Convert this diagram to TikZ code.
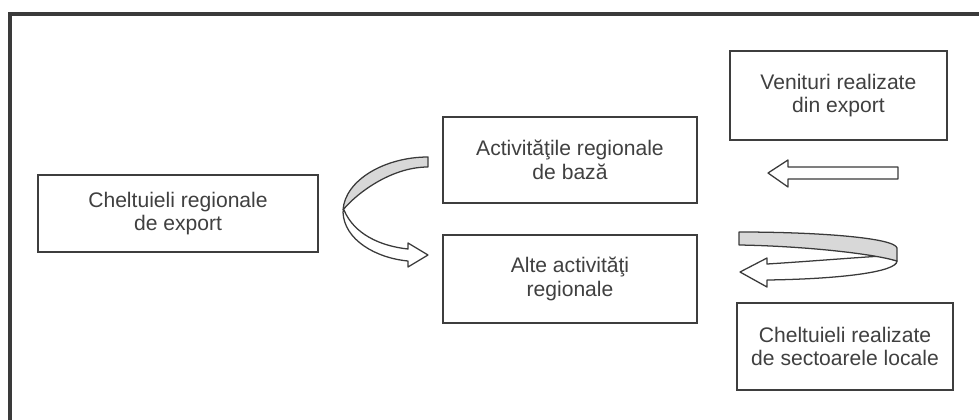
\documentclass[tikz,border=0pt]{standalone}
\usepackage{fontspec}
\setmainfont{Liberation Sans}
\usepackage{tikz}
\definecolor{FrameGray}{RGB}{58,58,58}
\definecolor{BoxLine}{RGB}{62,62,62}
\definecolor{TextGray}{RGB}{64,64,64}
\definecolor{RibbonGray}{RGB}{216,216,216}
\tikzset{
  flowbox/.style={draw=BoxLine, line width=1.3pt, fill=white, text=TextGray, align=center,
    font=\fontsize{15}{16.8}\selectfont},
  blockarrow/.style={draw=FrameGray, line width=0.9pt, fill=white, line join=round},
  ribbon/.style={draw=FrameGray, line width=0.9pt, fill=RibbonGray, line join=round}
}

\begin{document}
\begin{tikzpicture}[x=1cm,y=1cm]
  \useasboundingbox (0,0) rectangle (24.475,-10.475);
  \draw[FrameGray, line width=2.2pt] (24.6,-0.35) -- (0.25,-0.35) -- (0.25,-10.6);

  \node[flowbox, minimum width=7.0cm, minimum height=1.925cm] (export) at (4.45,-5.34) {Cheltuieli regionale\\de export};
  \node[flowbox, minimum width=6.35cm, minimum height=2.15cm] (baza) at (14.25,-4.0) {Activităţile regionale\\de bază};
  \node[flowbox, minimum width=6.35cm, minimum height=2.2cm] (alte) at (14.25,-6.975) {Alte activităţi\\regionale};
  \node[flowbox, minimum width=5.425cm, minimum height=2.225cm] (venit) at (20.96,-2.39) {Venituri realizate\\din export};
  \node[flowbox, minimum width=5.4cm, minimum height=2.175cm] (locale) at (21.125,-8.66) {Cheltuieli realizate\\de sectoarele locale};

  % straight block arrow under the export revenue box
  \draw[blockarrow] (19.2,-4.325) -- (19.7,-4.0) -- (19.7,-4.175) -- (22.45,-4.175)
    -- (22.45,-4.475) -- (19.7,-4.475) -- (19.7,-4.675) -- cycle;

  % curved arrow between export spending and the regional activities
  \draw[ribbon] (10.7,-3.925) .. controls (9.625,-3.925) and (8.625,-4.5) .. (8.575,-5.25)
    .. controls (8.875,-4.875) and (9.75,-4.175) .. (10.7,-4.175) -- cycle;
  \draw[blockarrow] (8.6,-5.25) .. controls (8.85,-5.85) and (9.5,-6.15) .. (10.2,-6.225)
    -- (10.2,-6.075) -- (10.7,-6.375) -- (10.2,-6.675) -- (10.2,-6.525)
    .. controls (9.4,-6.45) and (8.6,-6.0) .. (8.575,-5.3) -- cycle;

  % curved arrow returning from local spending
  \draw[blockarrow] (22.05,-6.4) .. controls (21.25,-6.45) and (20.0,-6.55) .. (19.175,-6.6)
    -- (19.175,-6.45) -- (18.5,-6.8) -- (19.175,-7.175) -- (19.175,-7.0)
    .. controls (21.0,-6.975) and (22.425,-6.8) .. (22.425,-6.525) -- cycle;
  \draw[ribbon] (18.475,-5.8) .. controls (20.5,-5.8) and (22.375,-5.95) .. (22.425,-6.2)
    -- (22.425,-6.525) .. controls (21.75,-6.325) and (20.0,-6.15) .. (18.475,-6.125) -- cycle;
\end{tikzpicture}
\end{document}
